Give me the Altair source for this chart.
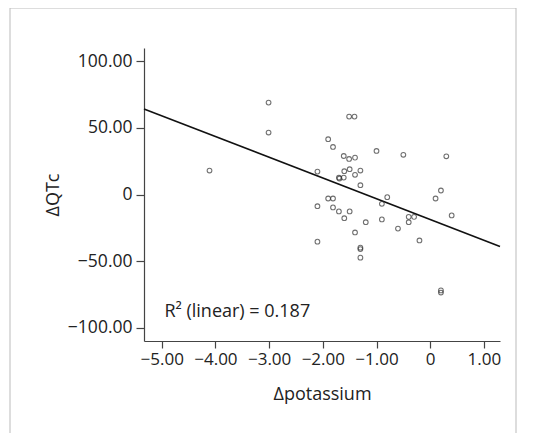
import altair as alt
import pandas as pd

# Δpotassium values
potassium = [-4.11, -3.01, -3.01, -1.51, -1.41, -1.90, -1.81, -1.61, -1.51, -1.40,
             -1.00, -0.50, 0.30, -2.10, -1.60, -1.50, -1.30, -1.40, -1.70, -1.69,
             -1.61, -1.30, 0.20, 0.10, -0.80, -1.90, -1.81, -2.10, -0.90, -1.81,
             -1.70, -1.50, -1.60, -1.20, -0.90, -0.40, -0.30, -0.40, -0.60, 0.40,
             -0.20, -1.40, -2.10, -1.30, -1.30, -1.30, 0.20, 0.20]
# ΔQTc values
qtc = [18.0, 69.0, 46.5, 58.5, 58.5, 41.5, 35.7, 28.9, 26.7, 27.7,
       32.7, 29.8, 28.7, 17.2, 17.5, 19.0, 18.0, 14.8, 12.7, 12.0,
       12.7, 7.0, 3.0, -3.0, -2.0, -3.0, -3.0, -8.8, -7.0, -9.7,
       -12.7, -12.7, -17.8, -20.8, -18.7, -16.8, -16.8, -20.8, -25.6, -15.7,
       -34.5, -28.5, -35.4, -39.9, -41.0, -47.4, -72.0, -73.6]

x_ticks = [-5, -4, -3, -2, -1, 0, 1]
y_ticks = [-100, -50, 0, 50, 100]
x_domain = [-5.33, 1.30]
y_domain = [-110, 110]
r2_label = ["R² (linear) = 0.187"]

df = pd.DataFrame({"x": potassium, "y": qtc})
FONT = "Open Sans"
lab = "datum.value == 0 ? '0' : format(datum.value, '.2f')"

xs = alt.Scale(domain=x_domain, nice=False, zero=False)
ys = alt.Scale(domain=y_domain, nice=False, zero=False)

xax = alt.Axis(values=x_ticks, labelExpr=lab, title="Δpotassium", grid=False,
               tickSize=7, labelPadding=3, titlePadding=18)
yax = alt.Axis(values=y_ticks, labelExpr=lab, title="ΔQTc", grid=False,
               tickSize=8, labelPadding=4, titlePadding=5, labelFontSize=17.5)

base = alt.Chart(df)

points = base.mark_point(shape="circle", filled=False, size=22, color="#333333",
                         strokeWidth=1.1).encode(
    x=alt.X("x:Q", scale=xs, axis=xax),
    y=alt.Y("y:Q", scale=ys, axis=yax),
)

line = base.transform_regression("x", "y", extent=x_domain).mark_line(
    color="#111111", strokeWidth=1.6).encode(
    x=alt.X("x:Q", scale=xs),
    y=alt.Y("y:Q", scale=ys),
)

txt = alt.Chart(pd.DataFrame({"x": [-4.95], "y": [-92], "t": r2_label})).mark_text(
    align="left", baseline="alphabetic", font=FONT, fontSize=18, color="#222222"
).encode(x=alt.X("x:Q", scale=xs), y=alt.Y("y:Q", scale=ys), text="t:N")

frame = alt.Chart(pd.DataFrame({"a": [0]})).mark_rect(
    fill=None, stroke="#bbbbbb", strokeWidth=1
).encode(x=alt.value(-134), x2=alt.value(372), y=alt.value(-40), y2=alt.value(386))

chart = alt.layer(frame, line, points, txt).properties(
    width=356, height=293,
    autosize=alt.AutoSizeParams(type="none"),
    padding={"left": 136, "top": 40, "right": 26, "bottom": 92},
).configure_view(stroke=None).configure_axis(
    domainColor="#444444", tickColor="#444444", labelColor="#222222",
    titleColor="#222222", labelFont=FONT, titleFont=FONT, labelFontSize=17,
    titleFontSize=18, titleFontWeight="normal", domainWidth=1.2, tickWidth=1.2
)

chart.save("out.html", embed_options={"renderer": "svg", "actions": False})
